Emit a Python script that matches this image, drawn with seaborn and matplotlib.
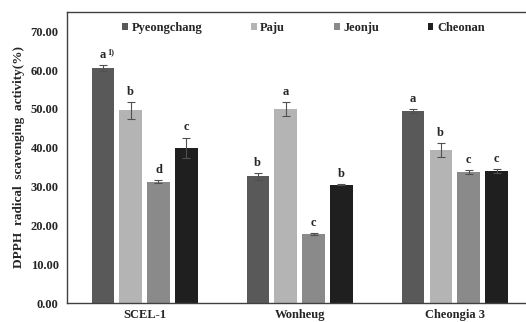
import pandas as pd
import numpy as np
import matplotlib
matplotlib.use("Agg")
import matplotlib.pyplot as plt
import seaborn as sns

# Values
cultivars = ["SCEL-1", "Wonheug", "Cheongia 3"]
sites = ["Pyeongchang", "Paju", "Jeonju", "Cheonan"]

pyeongchang = [60.5, 32.6, 49.4]
paju = [49.6, 50.0, 39.4]
jeonju = [31.3, 17.8, 33.7]
cheonan = [40.0, 30.5, 34.0]

pyeongchang_err = [0.7, 0.8, 0.5]
paju_err = [2.1, 1.8, 1.9]
jeonju_err = [0.4, 0.3, 0.5]
cheonan_err = [2.6, 0.2, 0.5]

pyeongchang_sig = ["a", "b", "a"]
paju_sig = ["b", "a", "b"]
jeonju_sig = ["d", "c", "c"]
cheonan_sig = ["c", "b", "c"]

colors = ["#595959", "#b4b4b4", "#8a8a8a", "#1f1f1f"]


def build_table():
    rows = []
    vals = [pyeongchang, paju, jeonju, cheonan]
    errs = [pyeongchang_err, paju_err, jeonju_err, cheonan_err]
    sigs = [pyeongchang_sig, paju_sig, jeonju_sig, cheonan_sig]
    for s, v, e, g in zip(sites, vals, errs, sigs):
        for c, vv, ee, gg in zip(cultivars, v, e, g):
            rows.append({"cultivar": c, "site": s, "value": vv, "err": ee, "sig": gg})
    return pd.DataFrame(rows)


def main():
    data = build_table()

    sns.set_theme(style="white")
    plt.rcParams["font.family"] = ["Liberation Serif", "DejaVu Serif"]
    plt.rcParams["font.weight"] = "bold"

    fig = plt.figure(figsize=(5.26, 3.22), dpi=100)
    ax = fig.add_axes([0.1274, 0.059, 0.8726, 0.904])

    sns.barplot(data=data, x="cultivar", y="value", hue="site", order=cultivars,
                hue_order=sites, palette=colors, width=0.72, gap=0.2,
                errorbar=None, edgecolor="none", linewidth=0, ax=ax)

    # error bars and significance letters on top of each bar
    for cont, s in zip(ax.containers, sites):
        sub = data[data["site"] == s].set_index("cultivar").loc[cultivars]
        xs = [p.get_x() + p.get_width() / 2 for p in cont.patches]
        ax.errorbar(xs, sub["value"], yerr=sub["err"], fmt="none",
                    ecolor="#505050", elinewidth=0.8, capsize=3, capthick=0.8)
        for x, v, e, g in zip(xs, sub["value"], sub["err"], sub["sig"]):
            ax.annotate(g, (x, v + e), xytext=(0, 3), textcoords="offset points",
                        ha="center", va="bottom", fontsize=9, fontweight="bold")
            if s == "Pyeongchang" and x < 0.5:
                ax.annotate("1)", (x, v + e), xytext=(3.0, 7), textcoords="offset points",
                            ha="left", va="bottom", fontsize=6, fontweight="bold")

    ax.set_ylim(0, 75)
    ax.set_xlim(-0.5, 2.46)
    ax.set_yticks(np.arange(0, 71, 10))
    ax.set_yticklabels([f"{t:.2f}" for t in np.arange(0, 71, 10)], fontsize=9,
                       fontweight="bold")
    ax.tick_params(axis="x", labelsize=9, length=0, pad=4)
    ax.tick_params(axis="y", length=0, pad=6)
    for lab in ax.get_xticklabels():
        lab.set_fontweight("bold")
    ax.set_xlabel("")
    ax.set_ylabel("DPPH  radical  scavenging  activity(%)", fontsize=9.5,
                  fontweight="bold", labelpad=4)

    for side in ["left", "bottom", "top"]:
        ax.spines[side].set_color("#404040")
        ax.spines[side].set_linewidth(1.0)
    ax.spines["right"].set_visible(False)

    handles, labels = ax.get_legend_handles_labels()
    ax.legend(handles, labels, loc="upper center", bbox_to_anchor=(0.515, 1.005),
              ncol=4, frameon=False, handlelength=0.45,
              handleheight=0.45, handletextpad=0.3, columnspacing=3.9,
              prop={"weight": "bold", "size": 9})

    fig.savefig("out.png", dpi=100)


if __name__ == "__main__":
    main()
